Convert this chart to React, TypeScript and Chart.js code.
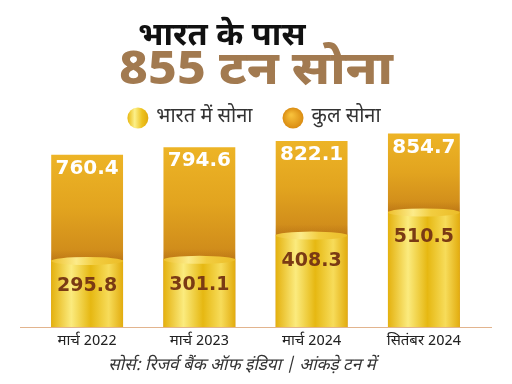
import React, { useEffect, useRef } from "react";
import { Chart, registerables } from "chart.js";

Chart.register(...registerables);

const categories = ["मार्च 2022", "मार्च 2023", "मार्च 2024", "सितंबर 2024"];
const indiaGold = [295.8, 301.1, 408.3, 510.5];
const totalGold = [760.4, 794.6, 822.1, 854.7];
const seriesNames = ["भारत में सोना", "कुल सोना"];
const titleLine1 = "भारत के पास";
const titleLine2 = "855 टन सोना";
const sourceText = "सोर्स: रिजर्व बैंक ऑफ इंडिया | आंकड़े टन में";

const DEVA = "'Noto Sans Devanagari', 'Lohit Devanagari', 'Noto Sans', sans-serif";
const NUM = "'DejaVu Sans', sans-serif";
const BAR_PCT = 0.64;

function barGeom(chart: any, i: number) {
  const xs = chart.scales.x;
  const cx = xs.getPixelForValue(i);
  const w = (xs.width / categories.length) * BAR_PCT;
  return { left: cx - w / 2, right: cx + w / 2, cx, w };
}

const legendPlugin = {
  id: "goldLegend",
  afterDraw(chart: any) {
    const { ctx } = chart;
    const r = 10.5;
    const gapText = 8;
    const gapItem = 30;
    const cy = 118;
    const centerX = 254;
    ctx.save();
    ctx.font = `20px ${DEVA}`;
    const widths = seriesNames.map((n) => ctx.measureText(n).width);
    const total = widths.reduce((a, w) => a + 2 * r + gapText + w, 0) + gapItem * (seriesNames.length - 1);
    let x = centerX - total / 2;
    seriesNames.forEach((n, i) => {
      const ccx = x + r;
      let fill: any;
      if (i === 0) {
        fill = ctx.createLinearGradient(ccx - r, 0, ccx + r, 0);
        fill.addColorStop(0, "#E8B70E");
        fill.addColorStop(0.35, "#FCF08A");
        fill.addColorStop(0.7, "#EDC21E");
        fill.addColorStop(1, "#E0A90C");
      } else {
        fill = ctx.createRadialGradient(ccx - 2, cy - 3, 1, ccx, cy, r);
        fill.addColorStop(0, "#F7C03A");
        fill.addColorStop(1, "#DA8C12");
      }
      ctx.fillStyle = fill;
      ctx.beginPath();
      ctx.arc(ccx, cy, r, 0, Math.PI * 2);
      ctx.fill();
      ctx.fillStyle = "#333333";
      ctx.textAlign = "left";
      ctx.textBaseline = "middle";
      ctx.fillText(n, x + 2 * r + gapText, cy);
      x += 2 * r + gapText + widths[i] + gapItem;
    });
    ctx.restore();
  },
};

const decorPlugin = {
  id: "decor",
  afterDatasetsDraw(chart: any) {
    const { ctx, chartArea } = chart;
    const ys = chart.scales.y;
    ctx.save();
    indiaGold.forEach((v, i) => {
      const g = barGeom(chart, i);
      const top = ys.getPixelForValue(v);
      const sh = ctx.createLinearGradient(0, top - 10, 0, top);
      sh.addColorStop(0, "rgba(150,80,10,0)");
      sh.addColorStop(1, "rgba(150,80,10,0.25)");
      ctx.fillStyle = sh;
      ctx.fillRect(g.left, top - 10, g.w, 10);
      const rim = ctx.createLinearGradient(g.left, 0, g.right, 0);
      rim.addColorStop(0, "#EEC02C");
      rim.addColorStop(0.35, "#FCEB8A");
      rim.addColorStop(0.6, "#F2CD40");
      rim.addColorStop(1, "#ECBD28");
      ctx.fillStyle = rim;
      ctx.beginPath();
      ctx.ellipse(g.cx, top + 1, g.w / 2, 4, 0, 0, Math.PI * 2);
      ctx.fill();
    });
    // baseline
    const by = Math.round(chartArea.bottom) + 0.5;
    ctx.strokeStyle = "#E2B48E";
    ctx.lineWidth = 1;
    ctx.beginPath();
    ctx.moveTo(chartArea.left - 11, by);
    ctx.lineTo(chartArea.right + 12, by);
    ctx.stroke();

    ctx.textAlign = "center";
    ctx.textBaseline = "middle";
    totalGold.forEach((v, i) => {
      const g = barGeom(chart, i);
      const top = ys.getPixelForValue(v);
      ctx.font = `bold 20px ${NUM}`;
      ctx.fillStyle = "#FFFFFF";
      ctx.fillText(v.toFixed(1), g.cx, top + 14);
    });
    indiaGold.forEach((v, i) => {
      const g = barGeom(chart, i);
      const top = ys.getPixelForValue(v);
      ctx.font = `bold 19px ${NUM}`;
      ctx.fillStyle = "#7A3A14";
      ctx.fillText(v.toFixed(1), g.cx, top + 26);
    });
    ctx.restore();
  },
};

export default function App() {
  const ref = useRef<HTMLCanvasElement>(null);
  useEffect(() => {
    if (!ref.current) return;
    const chart = new Chart(ref.current, {
      type: "bar",
      data: {
        labels: categories,
        datasets: [
          {
            label: seriesNames[0],
            data: indiaGold,
            backgroundColor: (c: any) => {
              const chart = c.chart;
              if (!chart.chartArea || c.dataIndex === undefined) return "#F2CB2E";
              const g = barGeom(chart, c.dataIndex);
              const gr = chart.ctx.createLinearGradient(g.left, 0, g.right, 0);
              gr.addColorStop(0, "#E4B10E");
              gr.addColorStop(0.28, "#FBEB7E");
              gr.addColorStop(0.55, "#E6B812");
              gr.addColorStop(0.8, "#F7DC5A");
              gr.addColorStop(1, "#E2AC0E");
              return gr;
            },
            borderWidth: 0,
          },
          {
            label: seriesNames[1],
            data: totalGold,
            backgroundColor: (c: any) => {
              const chart = c.chart;
              if (!chart.chartArea || c.dataIndex === undefined) return "#E3A11E";
              const ys = chart.scales.y;
              const top = ys.getPixelForValue(totalGold[c.dataIndex]);
              const bot = ys.getPixelForValue(indiaGold[c.dataIndex]);
              const gr = chart.ctx.createLinearGradient(0, top, 0, bot);
              gr.addColorStop(0, "#EDB426");
              gr.addColorStop(0.5, "#E2A41F");
              gr.addColorStop(1, "#CD881A");
              return gr;
            },
            borderWidth: 0,
          },
        ],
      },
      options: {
        animation: false,
        responsive: false,
        maintainAspectRatio: false,
        layout: { padding: { left: 31, right: 32, top: 78, bottom: 27 } },
        datasets: {
          bar: { grouped: false, barPercentage: BAR_PCT, categoryPercentage: 1 },
        },
        scales: {
          x: {
            grid: { display: false, drawTicks: false },
            border: { display: false },
            ticks: {
              color: "#222222",
              padding: 6,
              font: { family: DEVA, size: 15 },
            },
          },
          y: { display: false, min: 0, max: 1100 },
        },
        plugins: {
          legend: { display: false },
          title: { display: false },
          tooltip: { enabled: false },
        },
      },
      plugins: [decorPlugin, legendPlugin],
    });
    return () => chart.destroy();
  }, []);

  return (
    <div style={{ position: "fixed", left: 0, top: 0, width: 512, height: 384, background: "#fff", overflow: "hidden" }}>
      <canvas ref={ref} width={512} height={384} style={{ position: "absolute", left: 0, top: 0 }} />
      <div
        style={{
          position: "absolute",
          left: 138,
          top: 18,
          fontFamily: DEVA,
          fontWeight: 700,
          fontSize: 32,
          lineHeight: "38px",
          color: "#111",
          whiteSpace: "nowrap",
          transform: "scaleX(1.02)",
          transformOrigin: "left top",
        }}
      >
        {titleLine1}
      </div>
      <div
        style={{
          position: "absolute",
          left: 119,
          top: 47,
          fontFamily: DEVA,
          fontWeight: 800,
          fontSize: 46,
          lineHeight: "52px",
          color: "#A27A50",
          whiteSpace: "nowrap",
          transform: "scaleX(1.1)",
          transformOrigin: "left top",
        }}
      >
        {titleLine2}
      </div>
      <div
        style={{
          position: "absolute",
          left: 0,
          width: 484,
          top: 355,
          textAlign: "center",
          fontFamily: DEVA,
          fontStyle: "italic",
          fontSize: 17,
          lineHeight: "22px",
          color: "#333",
          whiteSpace: "nowrap",
        }}
      >
        {sourceText}
      </div>
    </div>
  );
}
